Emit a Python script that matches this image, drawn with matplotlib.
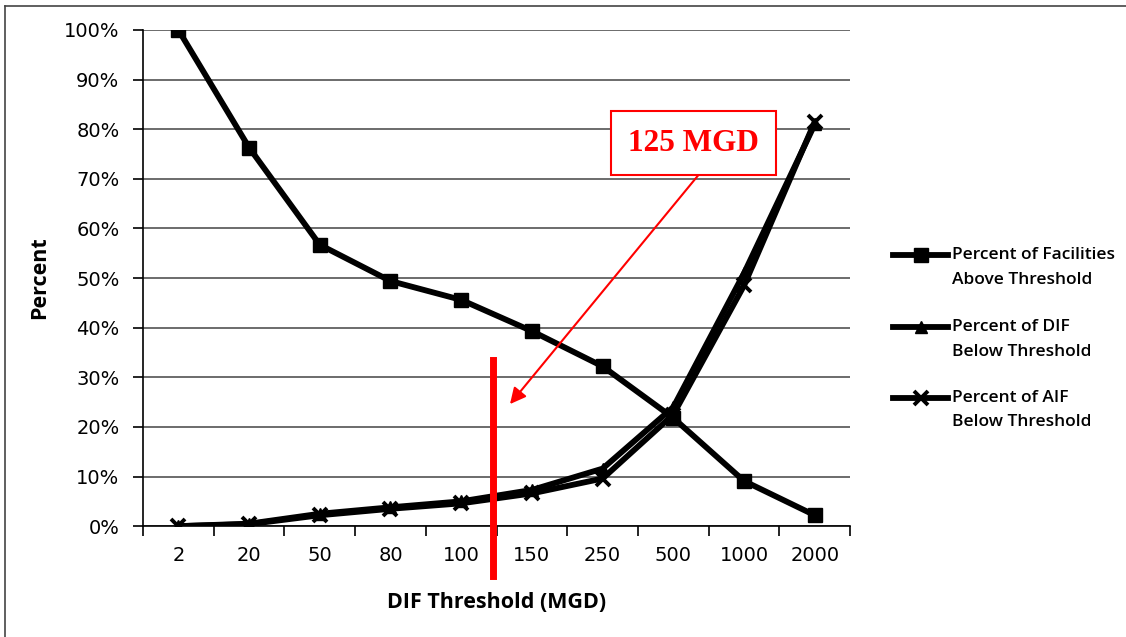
import matplotlib.pyplot as plt
from matplotlib.lines import Line2D

# categories on the x axis (MGD thresholds)
thresholds = ['2', '20', '50', '80', '100', '150', '250', '500', '1000', '2000']
# percent values
facilities_above = [100, 76.3, 56.7, 49.4, 45.6, 39.3, 32.2, 21.8, 9.1, 2.2]
dif_below = [0, 0.5, 2.5, 3.8, 5.0, 7.3, 11.6, 24.0, 51.0, 81.0]
aif_below = [0, 0.4, 2.2, 3.5, 4.6, 6.6, 9.6, 22.5, 48.5, 81.5]
series_names = [('Percent of Facilities', 'Above Threshold'),
                ('Percent of DIF', 'Below Threshold'),
                ('Percent of AIF', 'Below Threshold')]
cutoff_pos = 4.45  # 125 MGD, between 100 and 150

fig = plt.figure(figsize=(11.26, 6.37), dpi=100)
ax = fig.add_axes([0.127, 0.174, 0.628, 0.779])

styles = [dict(marker='s', ms=10),
          dict(marker='^', ms=9),
          dict(marker='x', ms=10, mew=2.8)]
x = range(len(thresholds))
for vals, st in zip([facilities_above, dif_below, aif_below], styles):
    ax.plot(x, vals, color='black', lw=4.2, zorder=4, **st)

ax.set_xlim(-0.5, len(thresholds) - 0.5)
ax.set_ylim(0, 100)
ax.set_yticks(range(0, 101, 10))
ax.set_yticklabels([f'{v}%' for v in range(0, 101, 10)],
                   fontsize=14, family='DejaVu Sans')
ax.set_xticks(list(x))
ax.set_xticklabels(thresholds, fontsize=14, family='DejaVu Sans')
ax.set_xticks([i - 0.5 for i in range(len(thresholds) + 1)], minor=True)
ax.tick_params(axis='x', which='major', length=0, pad=14)
ax.tick_params(axis='x', which='minor', length=7, width=1.2, direction='out')
ax.tick_params(axis='y', length=7, width=1.2, direction='out', pad=10)
ax.yaxis.grid(True, color='#444444', lw=1.1)
ax.set_axisbelow(True)
for side in ['top', 'right']:
    ax.spines[side].set_visible(False)
ax.spines['left'].set_linewidth(1.2)
ax.spines['bottom'].set_linewidth(1.2)

ax.set_xlabel('DIF Threshold (MGD)', fontsize=15.5, fontweight='bold',
              family='Open Sans', labelpad=20)
ax.set_ylabel('Percent', fontsize=15.5, fontweight='bold',
              family='Open Sans', labelpad=10)

# red cutoff line at 125 MGD, running below the axis
ax.plot([cutoff_pos, cutoff_pos], [33.5, -10], color='red', lw=5,
        clip_on=False, zorder=5)
ax.annotate('125 MGD', xy=(cutoff_pos + 0.24, 24.6), xytext=(7.28, 77.2),
            ha='center', va='center', color='red', fontsize=22.5,
            fontweight='bold', family='Liberation Serif',
            bbox=dict(boxstyle='square,pad=0.55', fc='white', ec='red', lw=1.5),
            arrowprops=dict(arrowstyle='-|>', color='red', lw=1.5,
                            mutation_scale=24, shrinkA=0, shrinkB=0,
                            relpos=(0.65, 0)),
            zorder=6)

# legend drawn by hand so the key sits on the first text line, as in Excel
leg_y = [1 - 255 / 637, 1 - 327 / 637, 1 - 398 / 637]
for (line1, line2), st, yy in zip(series_names, styles, leg_y):
    fig.add_artist(Line2D([893 / 1126, 948 / 1126], [yy, yy], color='black',
                          lw=4.2))
    fig.add_artist(Line2D([920.5 / 1126], [yy], color='black', ls='none', **st))
    for k, txt in enumerate([line1, line2]):
        fig.text(952 / 1126, yy - k * 24.5 / 637, txt, ha='left', va='center',
                 fontsize=12.5, family='Open Sans', fontweight='semibold')

# partial frame around the picture
fig.add_artist(Line2D([0.0045, 1.0], [0.991, 0.991], color='#444444', lw=1.2))
fig.add_artist(Line2D([0.0045, 0.0045], [0.0, 0.991], color='#444444', lw=1.2))

fig.savefig('out.png', dpi=100)
